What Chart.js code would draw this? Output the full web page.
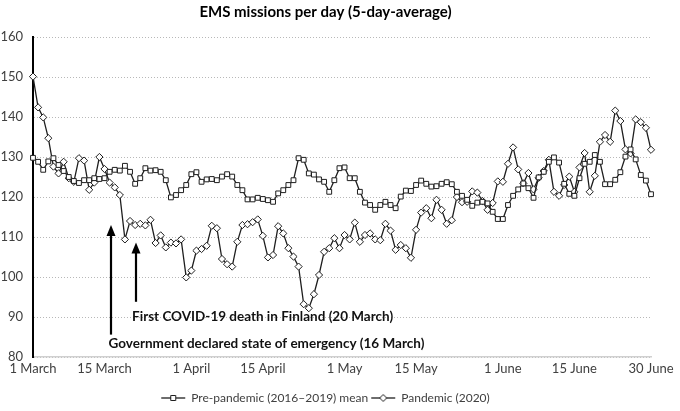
<!DOCTYPE html>
<html>
<head>
<meta charset="utf-8">
<script src="https://cdn.jsdelivr.net/npm/chart.js@4/dist/chart.umd.min.js"></script>
<style>
  html, body { margin: 0; padding: 0; background: #fff; }
  #wrap { width: 680px; height: 411px; }
</style>
</head>
<body>
<div id="wrap"><canvas id="chart-ems"></canvas></div>
<script>
'use strict';

// ── Data (1 March – 30 June) ─────────────────────────────────
const MONTHS      = ['March', 'April', 'May', 'June'];
const MONTH_DAYS  = [31, 30, 31, 30];
const TICK_LABELS = ['1 March', '15 March', '1 April', '15 April', '1 May',
                     '15 May', '1 June', '15 June', '30 June'];
const Y_TICKS     = [80, 90, 100, 110, 120, 130, 140, 150, 160];

const SERIES_NAMES = ['Pre-pandemic (2016\u20132019) mean', 'Pandemic (2020)'];

const PRE_PANDEMIC = [
  129.8, 128.8, 126.8, 128.9, 129.7, 128.0, 126.5, 125.0, 124.0, 123.5,
  124.2, 124.2, 124.7, 124.5, 124.7, 126.3, 126.8, 126.6, 127.8, 126.3,
  123.3, 124.7, 127.2, 126.6, 126.7, 126.3, 124.2, 119.9, 120.5, 121.7,
  123.0, 125.7, 126.2, 123.8, 124.4, 124.5, 124.2, 125.1, 125.7, 125.1,
  123.0, 121.7, 119.4, 119.4, 119.8, 119.5, 119.2, 118.8, 120.9, 121.7,
  123.0, 124.2, 129.7, 129.3, 125.9, 125.6, 124.4, 123.8, 121.3, 124.2,
  127.2, 127.4, 124.7, 124.7, 121.3, 118.6, 118.0, 116.8, 118.0, 118.8,
  118.0, 117.2, 120.1, 121.6, 121.5, 123.0, 124.1, 123.3, 122.6, 122.7,
  123.3, 123.7, 123.2, 121.3, 120.3, 119.3, 117.8, 118.6, 118.8, 118.4,
  116.3, 114.5, 114.5, 118.0, 120.3, 121.9, 123.4, 122.2, 119.8, 124.9,
  126.3, 128.8, 129.9, 128.6, 123.3, 120.8, 120.3, 124.7, 128.3, 128.8,
  130.5, 128.8, 123.2, 123.2, 124.3, 126.2, 130.1, 131.9, 129.4, 125.5,
  124.1, 120.7
];

const PANDEMIC = [
  150.1, 142.4, 139.9, 134.7, 127.6, 125.9, 128.8, 124.7, 123.8, 129.7,
  129.1, 121.8, 123.6, 130.0, 127.0, 123.6, 122.4, 120.5, 109.4, 114.0,
  113.0, 113.3, 112.9, 114.3, 108.5, 110.4, 107.4, 108.6, 108.4, 109.4,
   99.9, 101.6, 106.6, 107.0, 107.8, 112.8, 112.2, 104.5, 103.2, 102.6,
  108.8, 113.0, 113.2, 113.7, 114.4, 110.3, 104.9, 105.5, 112.7, 110.9,
  107.2, 105.1, 102.6,  93.2,  92.2,  95.7, 100.5, 106.3, 107.2, 109.7,
  107.2, 110.5, 109.4, 113.6, 108.8, 110.5, 110.9, 109.4, 109.2, 113.3,
  111.6, 106.8, 108.0, 107.2, 104.8, 111.8, 116.1, 117.2, 114.7, 119.3,
  116.8, 113.3, 114.2, 120.0, 118.7, 118.8, 121.4, 121.1, 119.0, 116.8,
  118.5, 123.9, 123.8, 128.3, 132.4, 126.9, 123.4, 126.0, 121.9, 124.8,
  126.5, 129.3, 121.3, 120.3, 123.0, 125.1, 121.3, 127.4, 131.0, 121.3,
  125.3, 133.8, 135.5, 133.8, 141.6, 139.0, 131.9, 130.9, 139.4, 138.7,
  137.3, 131.8
];

// Event annotations: label, arrow day (index, fractional ok), arrow top / bottom
// and text centre line in data units.
const EVENTS = [
  { text: 'First COVID-19 death in Finland (20 March)',
    day: 20.1, top: 108.6, bottom: 93.8, textDay: 19.4, textY: 90.1 },
  { text: 'Government declared state of emergency (16 March)',
    day: 15.3, top: 113.0, bottom: 85.6, textDay: 14.8, textY: 83.4 }
];

// Day labels "1 March" … "30 June"
const DAY_LABELS = [];
MONTHS.forEach((m, i) => {
  for (let d = 1; d <= MONTH_DAYS[i]; d++) DAY_LABELS.push(`${d} ${m}`);
});

// ── Styling ──────────────────────────────────────────────────
const FONT       = "Lato, 'Open Sans', sans-serif";
const LINE_COLOR = '#1e1e1e';
const TEXT_COLOR = '#404040';

Chart.defaults.font.family = FONT;
Chart.defaults.color = TEXT_COLOR;

// Legend swatch: short line with the series marker in the middle
function legendSwatch(style) {
  const c = document.createElement('canvas');
  c.width = 28; c.height = 10;
  const g = c.getContext('2d');
  g.strokeStyle = LINE_COLOR;
  g.lineWidth = 1.3;
  g.beginPath(); g.moveTo(2, 5); g.lineTo(26, 5); g.stroke();
  g.fillStyle = '#fff';
  g.lineWidth = 1;
  g.beginPath();
  if (style === 'rect') {
    g.rect(11.5, 2.5, 5, 5);
  } else {
    g.moveTo(14, 1.5); g.lineTo(17.5, 5); g.lineTo(14, 8.5); g.lineTo(10.5, 5); g.closePath();
  }
  g.fill(); g.stroke();
  return c;
}
const SWATCHES = [legendSwatch('rect'), legendSwatch('rectRot')];

// ── Annotation plugin: arrows + bold captions ────────────────
const eventArrows = {
  id: 'eventArrows',
  afterDraw(chart) {
    const { ctx, scales: { x, y } } = chart;
    ctx.save();
    EVENTS.forEach(ev => {
      const px = Math.round(x.getPixelForValue(ev.day));
      const yTop = y.getPixelForValue(ev.top);
      const yBot = y.getPixelForValue(ev.bottom);
      ctx.strokeStyle = '#000';
      ctx.fillStyle = '#000';
      ctx.lineWidth = 2.2;
      ctx.beginPath();
      ctx.moveTo(px, yBot);
      ctx.lineTo(px, yTop + 8);
      ctx.stroke();
      ctx.beginPath();
      ctx.moveTo(px, yTop);
      ctx.lineTo(px - 4.5, yTop + 11);
      ctx.lineTo(px + 4.5, yTop + 11);
      ctx.closePath();
      ctx.fill();

      ctx.font = `bold 13.5px ${FONT}`;
      ctx.textAlign = 'left';
      ctx.textBaseline = 'middle';
      ctx.fillStyle = '#111';
      ctx.fillText(ev.text, x.getPixelForValue(ev.textDay), y.getPixelForValue(ev.textY));
    });
    ctx.restore();
  }
};

// ── Chart ─────────────────────────────────────────────────────
const ctx = document.getElementById('chart-ems').getContext('2d');

new Chart(ctx, {
  type: 'line',
  data: {
    labels: DAY_LABELS,
    datasets: [
      {
        label: SERIES_NAMES[0],
        data: PRE_PANDEMIC,
        borderColor: LINE_COLOR,
        borderWidth: 1.3,
        pointStyle: 'rect',
        pointRadius: 3.4,
        pointBorderWidth: 1,
        pointBackgroundColor: '#fff',
        pointBorderColor: LINE_COLOR,
        tension: 0
      },
      {
        label: SERIES_NAMES[1],
        data: PANDEMIC,
        borderColor: LINE_COLOR,
        borderWidth: 1.3,
        pointStyle: 'rectRot',
        pointRadius: 3.6,
        pointBorderWidth: 1,
        pointBackgroundColor: '#fff',
        pointBorderColor: LINE_COLOR,
        tension: 0
      }
    ]
  },
  options: {
    responsive: true,
    maintainAspectRatio: false,
    animation: false,
    layout: { padding: { left: 0, right: 29, top: 0, bottom: 0 } },
    plugins: {
      title: {
        display: true,
        text: 'EMS missions per day (5-day-average)',
        color: '#000',
        font: { size: 15, weight: '700', family: FONT },
        padding: { top: 3, bottom: 16 }
      },
      legend: {
        position: 'bottom',
        maxHeight: 22,
        labels: {
          usePointStyle: true,
          pointStyleWidth: 24,
          padding: 3,
          color: TEXT_COLOR,
          font: { size: 12, family: FONT },
          generateLabels(chart) {
            const items = Chart.defaults.plugins.legend.labels.generateLabels(chart);
            items.forEach((it, i) => { it.pointStyle = SWATCHES[i]; });
            return items;
          }
        }
      },
      tooltip: { enabled: false }
    },
    scales: {
      x: {
        grid: { display: false, drawTicks: false },
        border: { display: true, color: '#d0d0d0', width: 1.5 },
        ticks: {
          autoSkip: false,
          maxRotation: 0,
          padding: 4,
          color: TEXT_COLOR,
          font: { size: 13, family: FONT }
        },
        afterBuildTicks(scale) {
          scale.ticks = scale.ticks.filter(t => TICK_LABELS.includes(DAY_LABELS[t.value]));
        },
        afterFit(scale) { scale.height = 32; }
      },
      y: {
        min: Y_TICKS[0],
        max: Y_TICKS[Y_TICKS.length - 1],
        grid: { color: '#b8b8b8', drawTicks: false, lineWidth: 1 },
        border: { display: true, color: '#000', width: 2, dash: [1, 2] },
        ticks: {
          stepSize: 10,
          padding: 10,
          color: TEXT_COLOR,
          font: { size: 13, family: FONT }
        },
        afterFit(scale) { scale.width = 33; }
      }
    }
  },
  plugins: [eventArrows]
});
</script>
</body>
</html>
